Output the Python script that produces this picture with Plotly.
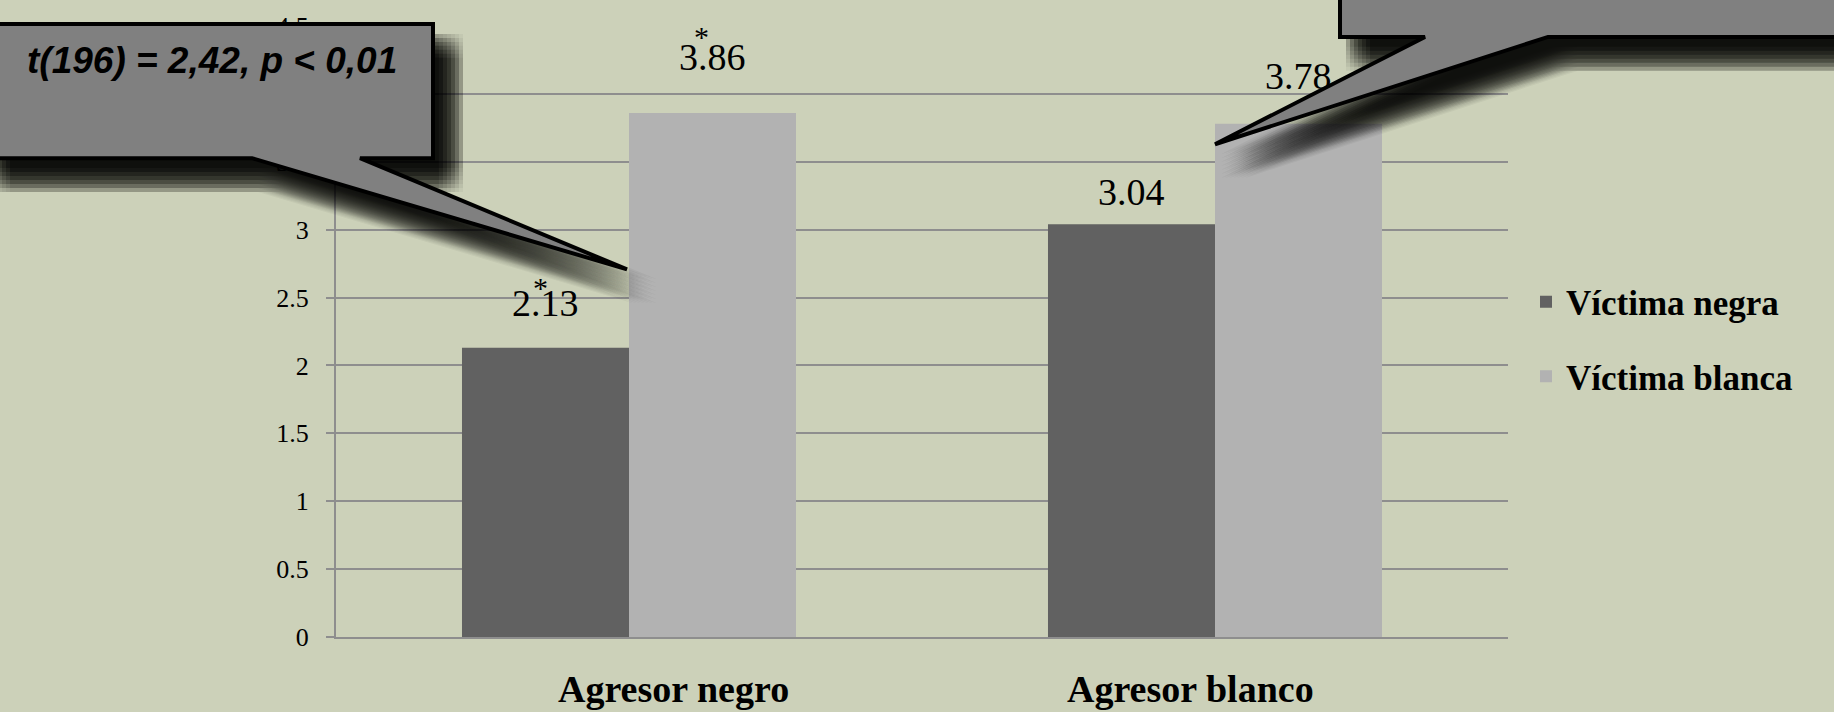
import plotly.graph_objects as go

# ---- data ----
categories = ["Agresor negro", "Agresor blanco"]
series_names = ["Víctima negra", "Víctima blanca"]
victima_negra = [2.13, 3.04]
victima_blanca = [3.86, 3.78]
significant_negra = [True, False]
significant_blanca = [True, False]
y_ticks = [0, 0.5, 1, 1.5, 2, 2.5, 3, 3.5, 4, 4.5]
callout_text = "t(196) = 2,42, p < 0,01"

# ---- layout constants (pixels) ----
W, H = 1834, 712
L, R, T, B = 336, 1508, 22, 637
BARGAP = 0.43
col_dark = "#616161"
col_light = "#b2b2b2"
bg = "#ccd1b9"
grid = "#8e8e8e"
serif = "Liberation Serif"


def px_x(px):
    return (px - L) / (R - L)


def px_y(py):
    return (B - py) / (B - T)


cat_w = (R - L) / len(categories)
bar_w = cat_w * (1 - BARGAP) / 2

fig = go.Figure()
fig.add_trace(go.Bar(x=categories, y=victima_negra, name=series_names[0],
                     marker=dict(color=col_dark, line=dict(width=0)),
                     legendgroup="a"))
fig.add_trace(go.Bar(x=categories, y=victima_blanca, name=series_names[1],
                     marker=dict(color=col_light, line=dict(width=0)),
                     legendgroup="b"))

annotations = []
# value labels
label_shift_negra = [45, 32]
label_shift_blanca = [56, 48]
star_off_negra = [(-5, 60)]
star_off_blanca = [(-11, 76)]
for vals, shifts, sig, side, stars in [
    (victima_negra, label_shift_negra, significant_negra, -1, star_off_negra),
    (victima_blanca, label_shift_blanca, significant_blanca, 1, star_off_blanca),
]:
    for i, (c, v) in enumerate(zip(categories, vals)):
        annotations.append(dict(
            x=c, y=v, xref="x", yref="y", text=f"{v:.2f}", showarrow=False,
            xshift=side * bar_w / 2, yshift=shifts[i], yanchor="middle",
            font=dict(family=serif, size=38, color="black")))
        if sig[i]:
            dx, dy = stars[0]
            annotations.append(dict(
                x=c, y=v, xref="x", yref="y", text="*", showarrow=False,
                xshift=side * bar_w / 2 + dx, yshift=dy, yanchor="middle",
                font=dict(family=serif, size=30, color="black")))

# category labels
cat_label_shift = [44, -25]
for c, s in zip(categories, cat_label_shift):
    annotations.append(dict(
        x=c, y=px_y(689), xref="x", yref="paper", text=c, showarrow=False,
        xshift=s, yanchor="middle",
        font=dict(family=serif, size=38, color="black", weight="bold")))

# callout text
annotations.append(dict(
    x=px_x(212), y=px_y(57), xref="paper", yref="paper",
    text="<b><i>" + callout_text.replace("<", "&lt;") + "</i></b>",
    showarrow=False, xanchor="center", yanchor="middle",
    font=dict(family="Liberation Sans", size=37, color="black")))


def path_from(points):
    s = "M " + " L ".join(f"{px_x(x):.5f},{px_y(y):.5f}" for x, y in points)
    return s + " Z"


callout1 = [(-20, 20), (433, 20), (433, 155), (360, 155), (627, 267),
            (252, 155), (-20, 155)]
callout2 = [(1340, -80), (1900, -80), (1900, 33), (1548, 33), (1215, 141),
            (1425, 33), (1340, 33)]

shapes = []
# soft shadow: box-blur approximation
cx, cy = 18, 22
steps = [-12, -8, -4, 0, 4, 8, 12]
for cpts in (callout1, callout2):
    for ddx in steps:
        for ddy in steps:
            dx, dy = cx + ddx, cy + ddy
            shapes.append(dict(type="path", xref="paper", yref="paper",
                               path=path_from([(x + dx, y + dy) for x, y in cpts]),
                               fillcolor="black", opacity=0.045,
                               line=dict(width=0), layer="above"))
for cpts in (callout1, callout2):
    shapes.append(dict(type="path", xref="paper", yref="paper",
                       path=path_from(cpts), fillcolor="#808080",
                       line=dict(color="black", width=4), layer="above"))

fig.update_layout(
    width=W, height=H,
    margin=dict(l=L, r=W - R, t=T, b=H - B, pad=0),
    paper_bgcolor=bg, plot_bgcolor=bg,
    barmode="group", bargap=BARGAP, bargroupgap=0,
    showlegend=True,
    legend=dict(x=px_x(1526), y=px_y(270), xanchor="left", yanchor="top",
                font=dict(family=serif, size=35, color="black", weight="bold"),
                tracegroupgap=26, bgcolor="rgba(0,0,0,0)", borderwidth=0,
                itemwidth=30),
    annotations=annotations,
    shapes=shapes,
    xaxis=dict(showticklabels=False, showgrid=False, ticks="",
               showline=True, linecolor=grid, linewidth=2, zeroline=False),
    yaxis=dict(range=[0, 4.5], tickvals=y_ticks,
               ticktext=[f"{t:g}" for t in y_ticks],
               showgrid=True, gridcolor=grid, gridwidth=1.5,
               showline=True, linecolor=grid, linewidth=2,
               ticks="outside", ticklen=8, tickcolor=grid, tickwidth=1.5,
               zeroline=False, ticklabelstandoff=12,
               tickfont=dict(family=serif, size=26, color="black")),
)

fig.write_html("out.html", config={"displayModeBar": False},
               post_script="document.body.style.margin='0';"
                           "document.body.style.background='" + bg + "';")
